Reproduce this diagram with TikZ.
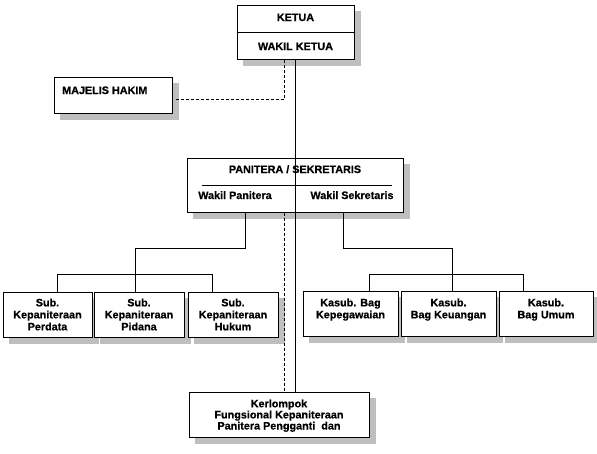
\documentclass[tikz,border=0pt]{standalone}
\usepackage{fontspec}
\setmainfont{Liberation Sans}[BoldFeatures={FakeBold=0.6}]
\pgfdeclarelayer{bg}
\pgfsetlayers{bg,main}
\tikzset{
  orgbox/.style={draw, fill=white, line width=1pt, inner sep=0pt, align=center,
    font=\bfseries\fontsize{10.8}{12}\selectfont},
  txt/.style={inner sep=0pt, align=center, font=\bfseries\fontsize{10.8}{12}\selectfont},
  tighttxt/.style={inner sep=0pt, align=center, font=\bfseries\fontsize{10.8}{9.4}\selectfont},
  ln/.style={line width=1pt},
  dln/.style={line width=1pt, dash pattern=on 3pt off 2pt},
  shadowfill/.style={fill=black!25, draw=none}
}
\begin{document}
\begin{tikzpicture}[x=1pt,y=-1pt]
\useasboundingbox (0,0) rectangle (597,453);

% top box
\node[orgbox, minimum width=117pt, minimum height=54pt] (ketua) at (295.5,32) {};
\draw[ln] (ketua.west) -- (ketua.east);
\node[txt, anchor=base] (ketuaT) at (295.5,21) {KETUA};
\node[txt, anchor=base] (wakilT) at (295.5,50) {WAKIL KETUA};

% majelis hakim
\node[orgbox, minimum width=118pt, minimum height=36pt] (majelis) at (113,95) {};
\node[txt, anchor=base west] (majelisT) at (62,94) {MAJELIS HAKIM};

% panitera
\node[orgbox, minimum width=216pt, minimum height=54pt] (pan) at (295,185) {};
\node[txt, anchor=base] (panT) at (295,173) {PANITERA / SEKRETARIS};
\node[txt, anchor=base] (wpT) at (235,199) {Wakil Panitera};
\node[txt, anchor=base] (wsT) at (352,199) {Wakil Sekretaris};
\coordinate (inL) at (202,185);
\coordinate (inR) at (392,185);
\draw[ln] (inL) -- (inR);

% left sub boxes
\node[orgbox, minimum width=89pt, minimum height=45pt] (perdata) at (47.5,314.5) {Sub.\\Kepaniteraan\\Perdata};
\node[orgbox, minimum width=90pt, minimum height=45pt] (pidana) at (139,314.5) {Sub.\\Kepaniteraan\\Pidana};
\node[orgbox, minimum width=90pt, minimum height=45pt] (hukum) at (233,314.5) {Sub.\\Kepaniteraan\\Hukum};

% right boxes
\node[orgbox, minimum width=95pt, minimum height=45pt] (pegawai) at (350.5,313.5) {};
\node[orgbox, minimum width=95pt, minimum height=45pt] (uang) at (448.5,313.5) {};
\node[orgbox, minimum width=94pt, minimum height=45pt] (umum) at (546,313.5) {};
\node[txt, anchor=north] (pegawaiT) at (350.5,298.3) {Kasub. Bag\\Kepegawaian};
\node[txt, anchor=north] (uangT) at (448.5,298.3) {Kasub.\\Bag Keuangan};
\node[txt, anchor=north] (umumT) at (546,298.3) {Kasub.\\Bag Umum};

% kelompok fungsional
\node[orgbox, minimum width=180pt, minimum height=45pt] (kel) at (279,414.5) {};
\node[tighttxt, anchor=north] (kelT) at (279,399.3) {Kerlompok\\Fungsional Kepaniteraan\\Panitera Pengganti~ dan};

% shadows
\begin{pgfonlayer}{bg}
\foreach \n in {ketua,majelis,pan,perdata,pidana,hukum,pegawai,uang,umum,kel}{
  \fill[shadowfill] ([xshift=6pt,yshift=-6pt]\n.south west) rectangle ([xshift=6pt,yshift=-6pt]\n.north east);
}
\end{pgfonlayer}

% connectors
\draw[ln] (ketua.south) -- (pan.north -| ketua.south);
\draw[dln] (majelis.east |- 0,99) ++(3,0) -| (ketua.south -| 284,0);
\draw[ln] (pan.north -| 295,184) -- (kel.north -| 295,0);
\draw[dln] (pan.south -| 284,0) -- (kel.north -| 284,0);

% left branch
\coordinate (jl) at (135,248);
\draw[ln] (pan.south -| 245,0) |- (jl) -- (pidana.north -| jl);
\draw[ln] (perdata.north -| 57,0) -- ++(0,-17) -| (hukum.north -| 212,0);

% right branch
\coordinate (jr) at (452,248);
\draw[ln] (pan.south -| 343,0) |- (jr) -- (uang.north -| jr);
\draw[ln] (pegawai.north -| 369,0) -- ++(0,-16) -| (umum.north -| 523,0);
\end{tikzpicture}
\end{document}
